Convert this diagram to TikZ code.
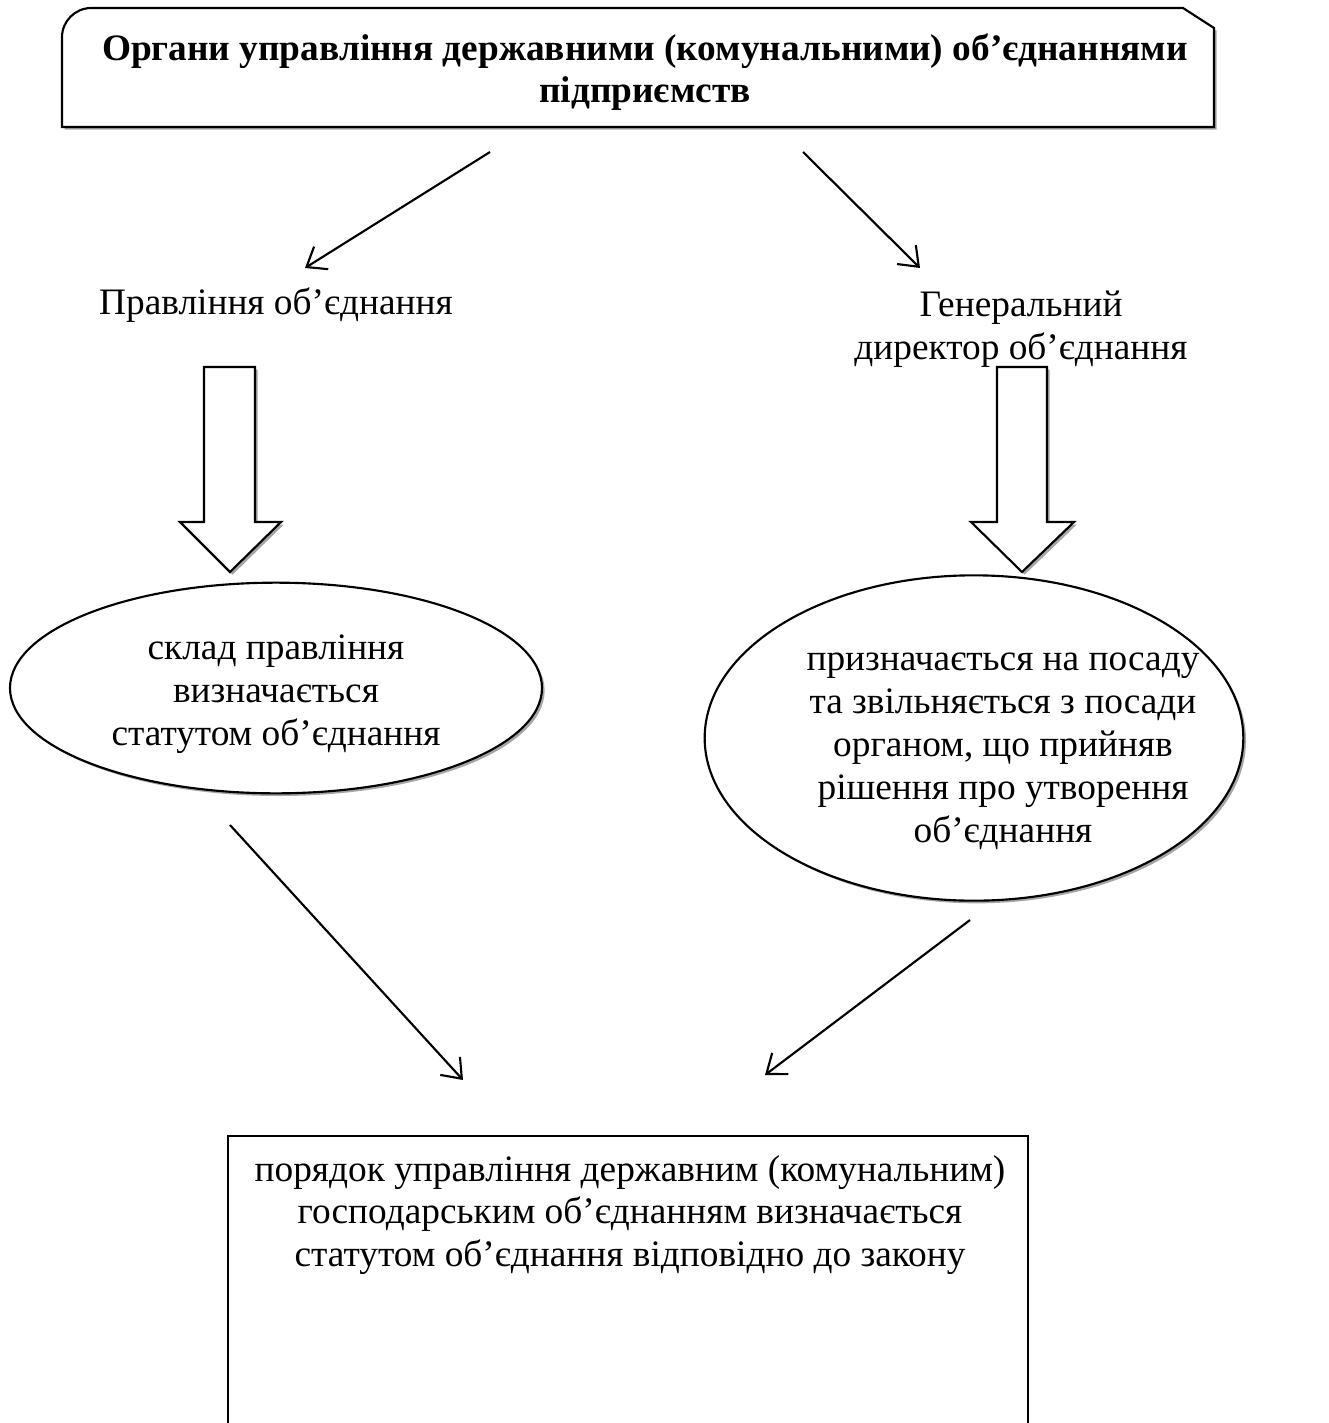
\documentclass[tikz,border=0pt]{standalone}
\usepackage{fontspec}
\setmainfont{Liberation Serif}
\usetikzlibrary{arrows.meta,positioning,shapes,shadows}

\tikzset{
  txt/.style={align=center,inner sep=0pt,font=\fontsize{14}{16.1}\selectfont},
  shade/.style={drop shadow={shadow xshift=1pt,shadow yshift=-1pt,fill=black!35,opacity=1}},
  oval/.style={draw,ellipse,fill=white,line width=0.8pt,shade},
  blockarrow/.style={draw,fill=white,line width=0.8pt,shade},
  arr/.style={-{Straight Barb[length=6.5pt,width=10pt]},line width=0.8pt},
}

\begin{document}
\begin{tikzpicture}[x=0.375pt,y=-0.375pt]
\useasboundingbox (0,0) rectangle (1328,1423);
\clip (0,0) rectangle (1328,1423);

% top box
\draw[blockarrow] (62,127) [rounded corners=11pt]-- (62,8) [sharp corners]-- (1183,8) -- (1214,28) -- (1214,127) -- cycle;
\node[txt,font=\fontsize{14}{15.75}\selectfont\bfseries] (title) at (645,72)
  {Органи управління державними (комунальними) об’єднаннями\\підприємств};

\node[txt] (board) at (276,305) {Правління об’єднання};
\node[txt] (director) at (1021,329) {Генеральний\\директор об’єднання};

\coordinate (t1) at (490,152);
\coordinate (t2) at (803,152);
\coordinate (h1) at (305,268);
\coordinate (h2) at (920,268);
\draw[arr] (t1) -- (h1);
\draw[arr] (t2) -- (h2);

% block arrows
\draw[blockarrow] (204,367) -- (255,367) -- (255,522) -- (281,522) -- (230,572) -- (180,522) -- (204,522) -- cycle;
\draw[blockarrow] (997,367) -- (1047,367) -- (1047,522) -- (1074,522) -- (1022,572) -- (971,522) -- (997,522) -- cycle;

% ellipses
\node[oval,minimum width=199.5pt,minimum height=79pt] (comp) at (276,688) {};
\node[txt] (comptxt) at (276,694) {склад правління\\визначається\\статутом об’єднання};
\node[oval,minimum width=202pt,minimum height=122pt] (appoint) at (974,738) {};
\node[txt] (appointtxt) at (1003,751)
  {призначається на посаду\\та звільняється з посади\\органом, що прийняв\\рішення про утворення\\об’єднання};

% bottom box
\node[draw,line width=0.8pt,minimum width=300pt,minimum height=130pt,anchor=north] (order) at (628,1135) {};
\node[txt] (ordertxt) at (630,1215)
  {порядок управління державним (комунальним)\\господарським об’єднанням визначається\\статутом об’єднання відповідно до закону};

\coordinate (b1) at (230,825);
\coordinate (b2) at (970,920);
\coordinate (e1) at (463,1080);
\coordinate (e2) at (765,1075);
\draw[arr] (b1) -- (e1);
\draw[arr] (b2) -- (e2);
\end{tikzpicture}
\end{document}
